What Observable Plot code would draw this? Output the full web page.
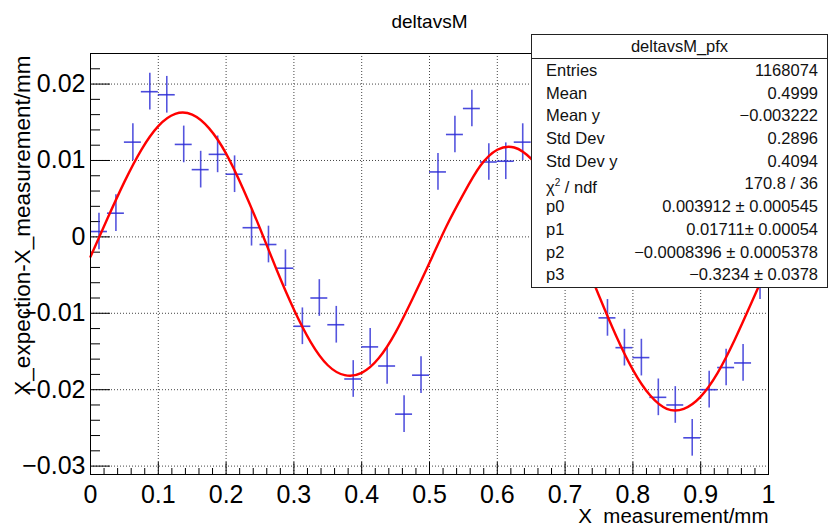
<!DOCTYPE html>
<html><head><meta charset="utf-8">
<script src="https://cdn.jsdelivr.net/npm/d3@7"></script>
<script src="https://cdn.jsdelivr.net/npm/@observablehq/plot@0.6"></script>
<style>
body{margin:0;background:#fff;}
#wrap{position:relative;width:829px;height:526px;overflow:hidden;background:#fff;font-family:"Liberation Sans",Arial,sans-serif;}
#stats{position:absolute;left:531px;top:34px;width:297px;height:254px;box-sizing:border-box;border:1px solid #222;background:#fff;color:#111;font-size:16.5px;}
#stats .head{height:23px;line-height:23px;text-align:center;border-bottom:1px solid #222;}
#stats .row{display:flex;justify-content:space-between;height:22.7px;line-height:22.7px;padding:0 9px 0 14px;}
</style></head><body><div id="wrap"></div>
<script>
// Bin centres (X measurement/mm) and profile values
const xCenters = [0.0125,0.0375,0.0625,0.0875,0.1125,0.1375,0.1625,0.1875,0.2125,0.2375,
  0.2625,0.2875,0.3125,0.3375,0.3625,0.3875,0.4125,0.4375,0.4625,0.4875,
  0.5125,0.5375,0.5625,0.5875,0.6125,0.6375,0.6625,0.6875,0.7125,0.7375,
  0.7625,0.7875,0.8125,0.8375,0.8625,0.8875,0.9125,0.9375,0.9625,0.9875];
const yValues = [0.0007,0.0031,0.0124,0.0190,0.0186,0.0121,0.0088,0.0108,0.0082,0.0012,
  -0.0010,-0.0041,-0.0117,-0.0080,-0.0115,-0.0186,-0.0144,-0.0169,-0.0232,-0.0181,
  0.0085,0.0134,0.0168,0.0098,0.0099,0.0124,0.0105,0.0060,0.0010,-0.0030,
  -0.0106,-0.0145,-0.0158,-0.0210,-0.0220,-0.0263,-0.0200,-0.0171,-0.0165,-0.0058];
const yErrors = [0.0024,0.0024,0.0024,0.0024,0.0024,0.0024,0.0024,0.0024,0.0024,0.0024,
  0.0024,0.0024,0.0024,0.0024,0.0024,0.0024,0.0024,0.0024,0.0024,0.0024,
  0.0024,0.0024,0.0024,0.0024,0.0024,0.0024,0.0024,0.0024,0.0024,0.0024,
  0.0024,0.0024,0.0024,0.0024,0.0024,0.0024,0.0024,0.0024,0.0024,0.0024];
const binHalfWidth = 0.0125;

// Fitted curve
const fitX = [0,0.025,0.05,0.075,0.1,0.125,0.15,0.175,0.2,0.225,0.25,0.275,0.3,0.325,0.35,0.375,0.4,0.425,0.45,0.475,
  0.5,0.525,0.55,0.575,0.6,0.625,0.65,0.675,0.7,0.725,0.75,0.775,0.8,0.825,0.85,0.875,0.9,0.925,0.95,0.975,1.0];
const fitY = [-0.0026,0.0024,0.0072,0.0114,0.0145,0.0161,0.0160,0.0142,0.0109,0.0063,0.0011,-0.0044,-0.0095,-0.0138,-0.0168,-0.0181,-0.0178,-0.0159,-0.0125,-0.0081,
  -0.0034,0.0014,0.0056,0.0093,0.0114,0.0117,0.0102,0.0072,0.0029,-0.0023,-0.0077,-0.0129,-0.0174,-0.0207,-0.0225,-0.0225,-0.0209,-0.0178,-0.0135,-0.0086,-0.0036];

// Axes
const xTicks = [0,0.1,0.2,0.3,0.4,0.5,0.6,0.7,0.8,0.9,1];
const xTickLabels = ["0","0.1","0.2","0.3","0.4","0.5","0.6","0.7","0.8","0.9","1"];
const yTicks = [-0.03,-0.02,-0.01,0,0.01,0.02];
const yTickLabels = ["\u22120.03","\u22120.02","\u22120.01","0","0.01","0.02"];
const xDomain = [0,1];
const yDomain = [-0.0311,0.0240];
const xMinor = d3.range(0,50).map(i=>i*0.02).filter(v=>Math.abs(v*10-Math.round(v*10))>1e-6);
const yMinor = d3.range(-15,13).map(i=>i*0.002).filter(v=>Math.abs(v*100-Math.round(v*100))>1e-6);

const title = "deltavsM";
const xTitle = "X\u00a0\u00a0measurement/mm";
const yTitle = "X_expection-X_measurement/mm";

// Stats box
const statTitle = "deltavsM_pfx";
const statLabels = ["Entries","Mean","Mean y","Std Dev","Std Dev y","\u03c7<sup style='font-size:10px'>2</sup> / ndf","p0","p1","p2","p3"];
const statValues = ["1168074","0.4999","\u22120.003222","0.2896","0.4094","170.8 / 36",
  "0.003912 \u00b1 0.000545","0.01711\u00b1 0.00054","\u22120.0008396 \u00b1 0.0005378","\u22120.3234 \u00b1 0.0378"];

const pts = xCenters.map((x,i)=>({x, y:yValues[i], e:yErrors[i]}));
const fit = fitX.map((x,i)=>({x, y:fitY[i]}));

const W = 829, H = 526, mL = 90, mR = 61, mT = 53, mB = 52;
const fw = W-mL-mR, fh = H-mT-mB;
const tickFont = "'Liberation Sans',Arial,sans-serif";
const blue = "#2a2ad6";

const chart = Plot.plot({
  width: W, height: H,
  marginLeft: mL, marginRight: mR, marginTop: mT, marginBottom: mB,
  style: {background: "#fff", fontFamily: "'Liberation Sans',Arial,sans-serif"},
  x: {domain: xDomain, axis: null},
  y: {domain: yDomain, axis: null},
  marks: [
    Plot.ruleX(xTicks.slice(1,-1), {x: d=>d, stroke: "#444", strokeWidth: 1, strokeDasharray: "1,2"}),
    Plot.ruleY(yTicks, {y: d=>d, stroke: "#444", strokeWidth: 1, strokeDasharray: "1,2"}),
    Plot.tickY(yTicks, {y: d=>d, insetRight: fw-20, stroke: "#000"}),
    Plot.tickY(yMinor, {y: d=>d, insetRight: fw-10, stroke: "#000"}),
    Plot.tickX(xTicks, {x: d=>d, insetTop: fh-12, stroke: "#000"}),
    Plot.tickX(xMinor, {x: d=>d, insetTop: fh-6, stroke: "#000"}),
    Plot.ruleX(pts, {x: "x", y1: d=>d.y-d.e, y2: d=>d.y+d.e, stroke: blue, strokeWidth: 1.6, strokeOpacity: 0.8}),
    Plot.ruleY(pts, {y: "y", x1: d=>d.x-binHalfWidth, x2: d=>d.x+binHalfWidth, stroke: blue, strokeWidth: 1.6, strokeOpacity: 0.85}),
    Plot.line(fit, {x: "x", y: "y", curve: "natural", stroke: "#ff0000", strokeWidth: 2.4}),
    Plot.frame({stroke: "#000", strokeWidth: 1}),
    Plot.text(xTicks, {x: d=>d, frameAnchor: "bottom", text: (d,i)=>xTickLabels[i], dy: 20, fontSize: 25, fontFamily: tickFont, fill: "#000", lineAnchor: "middle"}),
    Plot.text(yTicks, {y: d=>d, frameAnchor: "left", text: (d,i)=>yTickLabels[i], dx: -5, textAnchor: "end", fontSize: 25, fontFamily: tickFont, fill: "#000", lineAnchor: "middle"}),
    Plot.text([title], {frameAnchor: "top", text: d=>d, dy: -32, fontSize: 19, fill: "#000", lineAnchor: "middle"}),
    Plot.text([xTitle], {frameAnchor: "bottom-right", text: d=>d, dy: 42, textAnchor: "end", fontSize: 20.5, fill: "#000", lineAnchor: "middle"}),
    Plot.text([yTitle], {frameAnchor: "top-left", text: d=>d, dx: -68, dy: 2, rotate: -90, textAnchor: "end", fontSize: 22.5, fill: "#000", lineAnchor: "middle"})
  ]
});

const wrap = document.getElementById("wrap");
wrap.appendChild(chart);
const box = document.createElement("div");
box.id = "stats";
box.innerHTML = `<div class="head">${statTitle}</div>` + statLabels.map((l,i)=>`<div class="row"><span>${l}</span><span>${statValues[i]}</span></div>`).join("");
wrap.appendChild(box);
</script></body></html>
